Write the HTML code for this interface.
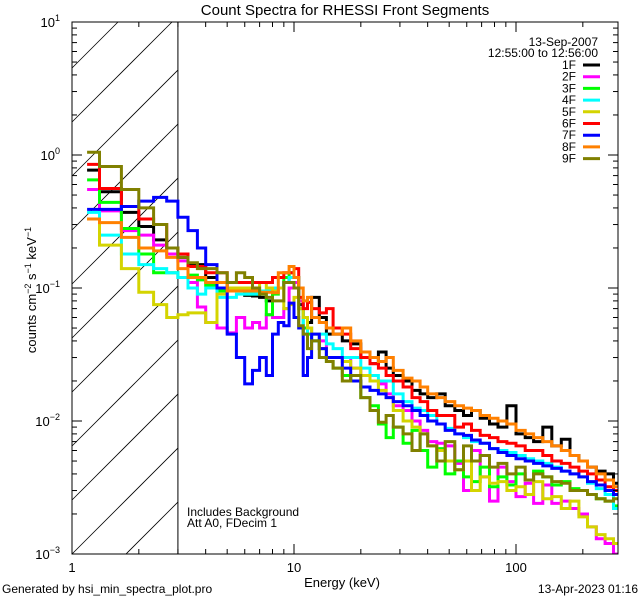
<!DOCTYPE html>
<html><head><meta charset="utf-8"><style>
html,body{margin:0;padding:0;background:#fff;width:640px;height:600px;overflow:hidden;}
svg{display:block;font-family:"Liberation Sans",sans-serif;overflow:hidden;}
</style></head><body>
<svg id="chart" width="640" height="600" viewBox="0 0 640 600" xmlns="http://www.w3.org/2000/svg">
<rect x="0" y="0" width="640" height="600" fill="#fff"/>
<text x="345" y="15" font-size="15" text-anchor="middle">Count Spectra for RHESSI Front Segments</text>
<text x="342" y="587" font-size="13" text-anchor="middle">Energy (keV)</text>
<text transform="translate(36,290) rotate(-90)" font-size="13" text-anchor="middle">counts cm<tspan dy="-5" font-size="9">−2</tspan><tspan dy="5"> s</tspan><tspan dy="-5" font-size="9">−1</tspan><tspan dy="5"> keV</tspan><tspan dy="-5" font-size="9">−1</tspan></text>
<text x="2" y="593" font-size="12">Generated by hsi_min_spectra_plot.pro</text>
<text x="638" y="593" font-size="12" text-anchor="end">13-Apr-2023 01:16</text>
<text x="187" y="516" font-size="12">Includes Background</text>
<text x="187" y="527" font-size="12">Att A0, FDecim 1</text>
<g id="hatch"></g>
<g id="series"></g>
<g id="axes"></g>
<g id="legend">
<text x="598" y="46" font-size="12" text-anchor="end">13-Sep-2007</text>
<text x="598" y="57" font-size="12" text-anchor="end">12:55:00 to 12:56:00</text>
</g>
</svg>
<script>
const edges=[1.17,1.33,1.67,2.0,2.33,2.67,3.0,3.33,3.67,4.0,4.5,5,5.5,6,6.5,7,7.5,8,8.5,9,9.5,10,10.5,11,11.5,12,13,14,15,
16.5,18,20,22,24,26,28,31,34,37,40,44,48,53,58,63,69,76,83,91,100,110,120,132,145,160,175,192,210,230,252,275,300];
const seriesNames=["1F","2F","3F","4F","5F","6F","7F","8F","9F"];
const seriesColors=["#000000","#ff00ff","#00ff00","#00ffff","#d4d400","#ff0000","#0000ff","#ff8000","#808000"];
const s1F=[0.77,0.53,0.37,0.29,0.23,0.2,0.17,0.15,0.15,0.12,0.11,0.1,0.095,0.088,0.087,0.085,0.08,0.1,0.1,0.11,0.12,0.12,0.075,0.06,0.055,0.085,0.06,0.045,
0.045,0.04,0.038,0.03,0.027,0.033,0.025,0.022,0.02,0.017,0.016,0.015,0.016,0.013,0.012,0.011,0.012,0.0105,0.0095,0.009,0.013,0.008,0.0075,0.007,0.009,0.0065,0.0073,0.0055,0.005,0.0045,0.0042,0.004,0.0034];
const s2F=[0.55,0.38,0.27,0.25,0.21,0.18,0.16,0.11,0.072,0.055,0.05,0.046,0.06,0.05,0.055,0.05,0.063,0.06,0.06,0.07,0.1,0.11,0.08,0.06,0.05,0.04,0.04,0.03,
0.03,0.03,0.025,0.022,0.02,0.019,0.016,0.013,0.012,0.01,0.0085,0.007,0.0068,0.0065,0.0048,0.003,0.006,0.0038,0.0025,0.0045,0.0035,0.0027,0.0034,0.0024,0.0033,0.0024,0.0025,0.0022,0.002,0.0016,0.0013,0.0012,0.001];
const s3F=[0.65,0.44,0.28,0.18,0.13,0.13,0.12,0.125,0.115,0.105,0.095,0.095,0.095,0.09,0.09,0.09,0.063,0.09,0.1,0.12,0.13,0.12,0.07,0.05,0.045,0.04,0.035,0.028,
0.025,0.022,0.02,0.015,0.013,0.0095,0.0075,0.009,0.0068,0.0085,0.006,0.0045,0.0062,0.004,0.005,0.0038,0.0035,0.0045,0.0032,0.0038,0.0033,0.004,0.0036,0.0042,0.0038,0.0033,0.0035,0.0031,0.003,0.0028,0.0026,0.0025,0.0023];
const s4F=[0.37,0.25,0.18,0.15,0.14,0.13,0.12,0.1,0.09,0.1,0.085,0.085,0.09,0.09,0.09,0.095,0.095,0.1,0.1,0.11,0.12,0.12,0.07,0.045,0.05,0.04,0.045,0.038,
0.035,0.03,0.03,0.025,0.022,0.02,0.02,0.016,0.014,0.0125,0.012,0.011,0.0095,0.0088,0.008,0.0075,0.007,0.0068,0.0062,0.006,0.0058,0.0055,0.0052,0.005,0.0048,0.0045,0.0042,0.004,0.0038,0.0034,0.0031,0.0028,0.0022];
const s5F=[0.33,0.21,0.14,0.093,0.075,0.06,0.063,0.065,0.065,0.055,0.09,0.1,0.1,0.1,0.1,0.11,0.1,0.095,0.1,0.07,0.075,0.085,0.07,0.06,0.05,0.045,0.035,0.03,
0.03,0.028,0.025,0.022,0.02,0.017,0.015,0.012,0.01,0.009,0.008,0.0065,0.006,0.005,0.0043,0.005,0.003,0.0038,0.0034,0.0035,0.003,0.0032,0.0028,0.0035,0.0026,0.0027,0.0022,0.0025,0.0019,0.0016,0.0014,0.0013,0.0012];
const s6F=[0.85,0.56,0.41,0.33,0.3,0.2,0.18,0.145,0.145,0.13,0.13,0.11,0.11,0.11,0.11,0.11,0.11,0.12,0.12,0.13,0.13,0.14,0.085,0.07,0.078,0.07,0.065,0.07,
0.05,0.045,0.035,0.03,0.027,0.025,0.022,0.02,0.018,0.015,0.014,0.012,0.011,0.011,0.009,0.0095,0.0085,0.0078,0.0075,0.007,0.0068,0.0065,0.006,0.006,0.0055,0.005,0.0048,0.0045,0.0042,0.004,0.0036,0.0032,0.003];
const s7F=[0.39,0.39,0.41,0.45,0.48,0.45,0.34,0.27,0.2,0.15,0.1,0.045,0.03,0.019,0.024,0.03,0.022,0.045,0.055,0.052,0.077,0.06,0.05,0.022,0.03,0.045,0.035,0.03,
0.03,0.025,0.02,0.018,0.017,0.016,0.015,0.014,0.013,0.012,0.011,0.01,0.0095,0.0085,0.008,0.0078,0.0072,0.0068,0.0062,0.0058,0.0055,0.0052,0.005,0.0048,0.0046,0.0044,0.0042,0.004,0.0038,0.0035,0.0033,0.003,0.0028];
const s8F=[0.33,0.31,0.24,0.2,0.19,0.17,0.14,0.12,0.12,0.11,0.11,0.095,0.095,0.095,0.095,0.093,0.093,0.092,0.13,0.13,0.145,0.12,0.1,0.08,0.085,0.06,0.055,0.05,
0.045,0.05,0.04,0.033,0.03,0.028,0.03,0.024,0.021,0.02,0.018,0.016,0.015,0.014,0.013,0.0125,0.012,0.011,0.0105,0.01,0.0095,0.0085,0.008,0.0075,0.007,0.0065,0.006,0.0055,0.005,0.0045,0.004,0.0036,0.0032];
const s9F=[1.05,0.82,0.55,0.4,0.3,0.2,0.17,0.155,0.14,0.14,0.13,0.11,0.13,0.12,0.1,0.09,0.085,0.08,0.08,0.11,0.11,0.1,0.052,0.045,0.035,0.04,0.03,0.028,
0.025,0.02,0.022,0.015,0.012,0.0098,0.011,0.009,0.008,0.006,0.008,0.0065,0.005,0.007,0.0043,0.0065,0.005,0.0055,0.0045,0.0048,0.004,0.0045,0.0036,0.004,0.0038,0.0035,0.0034,0.003,0.003,0.0028,0.0026,0.0025,0.0026];
const xTickLabels=["1","10","100"];
const yTickExps=[-3,-2,-1,0,1];

const NS="http://www.w3.org/2000/svg";
const L=72,R=618,T=22,B=554;
const X0=72,XD=222;
function xs(e){return X0+Math.log10(e)*XD;}
function ys(v){return T+(1-Math.log10(v))*((B-T)/4);}
function mk(tag,attrs,parent){const el=document.createElementNS(NS,tag);for(const k in attrs)el.setAttribute(k,attrs[k]);parent.appendChild(el);return el;}
const svg=document.getElementById('chart');
const defs=mk('defs',{},svg);
const cp=mk('clipPath',{id:'plotclip'},defs);
mk('rect',{x:L,y:T,width:R-L,height:B-T},cp);

const hatch=document.getElementById('hatch');
const hx=xs(3);
for(let k=-2;k<14;k++){
  const y0=B-k*54; // line: y = y0 - (x-L)
  let xa=L, xb=hx;
  // clip to T<=y<=B
  xa=Math.max(xa, L+(y0-B));
  xb=Math.min(xb, L+(y0-T));
  if(xb<=xa) continue;
  const ln=mk('line',{x1:xa,y1:y0-(xa-L),x2:xb,y2:y0-(xb-L),stroke:'#000','stroke-width':0.8},hatch);
  
  
}
const vl=mk('line',{x1:hx,y1:T,x2:hx,y2:B,stroke:'#000','stroke-width':1},hatch);



const sg=document.getElementById('series');
sg.setAttribute('clip-path','url(#plotclip)');
const allSeries=[s1F,s2F,s3F,s4F,s5F,s6F,s7F,s8F,s9F];
function cy(v){return Math.min(B+2,Math.max(T-2,ys(v)));}
allSeries.forEach((vals,i)=>{
  let d='';
  for(let j=0;j<vals.length;j++){
    const x1=xs(edges[j]).toFixed(1),x2=Math.min(R+2,xs(edges[j+1])).toFixed(1),y=cy(vals[j]).toFixed(1);
    d+=(j===0?'M':'L')+x1+','+y+'L'+x2+','+y;
  }
  const p=mk('path',{d:d,fill:'none',stroke:seriesColors[i],'stroke-width':3,'stroke-linejoin':'miter'},sg);
  
  
});

const ax=document.getElementById('axes');
const fr=mk('rect',{x:L,y:T,width:R-L,height:B-T,fill:'none',stroke:'#000','stroke-width':1},ax);


for(let dec=0;dec<3;dec++){
  for(let m=1;m<10;m++){
    const e=Math.pow(10,dec)*m;const x=xs(e);if(x>R)break;
    const len=m===1?10:5;
    mk('line',{x1:x,y1:B,x2:x,y2:B-len,stroke:'#000'},ax);
    mk('line',{x1:x,y1:T,x2:x,y2:T+len,stroke:'#000'},ax);
  }
}
xTickLabels.forEach(t=>{
  const tx=mk('text',{x:xs(parseFloat(t)),y:B+18,'font-size':13,'text-anchor':'middle'},ax);
  tx.textContent=t;
  
  
});
for(let ex=-3;ex<1;ex++){
  for(let m=1;m<10;m++){
    const y=ys(Math.pow(10,ex)*m);
    const len=m===1?10:5;
    mk('line',{x1:L,y1:y,x2:L+len,y2:y,stroke:'#000'},ax);
    mk('line',{x1:R,y1:y,x2:R-len,y2:y,stroke:'#000'},ax);
  }
}
yTickExps.forEach(ex=>{
  const tx=mk('text',{x:L-12,y:ys(Math.pow(10,ex))+5,'font-size':13,'text-anchor':'end'},ax);
  
  
  const a=mk('tspan',{},tx);a.textContent='10';
  const b=mk('tspan',{dy:-6,'font-size':9},tx);b.textContent=(ex<0?'−':'')+Math.abs(ex);
});

const lg=document.getElementById('legend');
seriesNames.forEach((n,i)=>{
  const y=65+i*11.7;
  const t=mk('text',{x:576,y:y+4,'font-size':12,'text-anchor':'end'},lg);
  t.textContent=n;
  
  
  const l=mk('line',{x1:583,y1:y,x2:600,y2:y,stroke:seriesColors[i],'stroke-width':3},lg);
  
  
});
</script>
</body></html>
